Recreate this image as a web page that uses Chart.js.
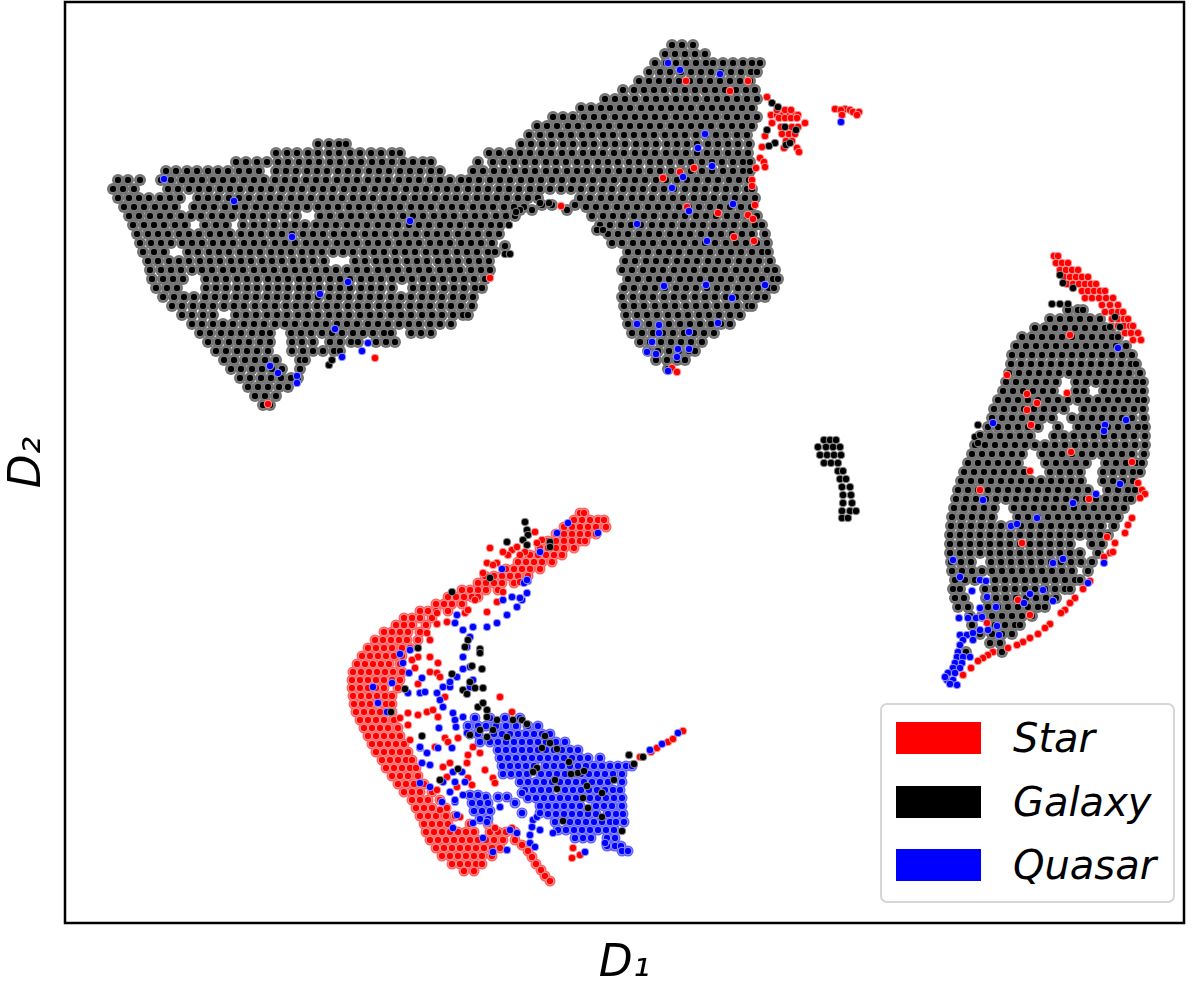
<!DOCTYPE html>
<html>
<head>
<meta charset="utf-8">
<title>D1 D2 embedding</title>
<script src="https://cdn.jsdelivr.net/npm/chart.js@4/dist/chart.umd.min.js"></script>
<style>
body { margin: 0; background: #fff; }
#wrap { position: relative; width: 1200px; height: 985px; }
#chart { filter: blur(0.5px); }
#legend { position: absolute; left: 880px; top: 703px; width: 291px; height: 196px; border: 2.5px solid #d6d6d6; border-radius: 7px; background: #fff; font: italic 40px "DejaVu Sans"; color: #000; }
#legend div { position: absolute; left: 14px; height: 32px; line-height: 32px; white-space: nowrap; }
#legend span { display: inline-block; width: 85px; height: 32px; margin-right: 32px; vertical-align: top; }
</style>
</head>
<body>
<div id="wrap"><canvas id="chart" width="1200" height="985"></canvas><div id="legend"></div></div>
<script>
const classNames = ['Star', 'Galaxy', 'Quasar'];
const classColors = ['#ff0000', '#000000', '#0000ff'];

// values, rows are [D2, D1, D1, ...]
const galaxyUpper = [
[45,672,682,693],
[54,665,675,685,695,705],
[63,655,666,676,686,696,706,713,723,733,743,752,760],
[72,649,660,670,681,691,701,711,721,731,741,751,757],
[81,639,649,659,669,679,690,700,710,720,730,740,750],
[90,623,634,644,654,664,675,685,695,705,715,725,736,746,755],
[99,605,615,625,635,646,656,666,676,686,696,707,717,727,737,747,757],
[108,581,591,601,610,620,630,641,651,661,671,681,691,702,712,722,732,742,752],
[117,553,563,573,584,594,604,615,625,635,645,655,665,676,686,696,706,716,727,737,747,757],
[126,537,547,557,568,578,589,599,609,620,630,640,650,660,671,681,691,701,711,722,732,742,752],
[135,529,540,551,561,571,582,592,603,613,624,634,644,654,665,675,685,696,706,716,726,737,747],
[144,318,329,339,346,521,531,542,552,563,573,584,594,605,615,625,636,646,656,667,677,687,697,708,718,728,738,749],
[153,276,287,297,308,318,329,339,350,360,371,381,392,400,489,499,510,520,530,541,551,562,572,583,593,603,614,624,635,645,655,666,676,686,697,707,717,728,738,748],
[162,236,246,257,267,278,288,299,309,319,330,340,351,361,372,382,392,403,413,423,431,478,493,504,514,525,535,546,556,566,577,587,598,608,618,629,639,650,660,670,681,691,702,712,722,733,743,750],
[171,166,176,187,197,208,218,228,239,249,259,276,286,296,307,317,327,338,348,358,369,379,389,400,410,420,431,440,473,483,494,504,515,525,535,546,556,567,577,587,598,608,619,629,639,650,660,671,681,691,702,712,723,733,743,750],
[180,118,128,140,161,171,182,192,202,213,223,233,244,254,264,275,285,295,306,316,326,337,347,357,368,378,388,399,409,419,430,440,450,461,469,479,490,500,510,521,531,541,552,562,573,583,593,604,614,625,635,645,656,666,677,687,697,708,718,729,739,749],
[189,113,123,134,168,178,189,199,209,220,230,240,251,261,271,282,292,302,313,323,333,344,354,364,375,385,395,406,416,426,437,447,457,468,478,488,499,509,519,530,540,550,561,571,581,592,602,612,623,633,643,654,664,674,685,695,705,716,726,736,747,752],
[198,118,129,139,149,160,170,180,198,208,218,229,239,249,260,270,280,291,301,311,322,332,342,353,363,373,384,394,404,415,425,435,446,456,466,477,487,497,507,518,528,538,580,590,601,611,621,632,642,652,663,673,683,694,704,714,725,735,745,755],
[207,124,134,144,155,165,175,194,204,214,225,235,245,256,266,276,287,297,307,318,328,338,349,359,369,380,390,400,411,421,431,442,452,462,473,483,493,504,514,524,586,596,606,617,627,637,648,658,668,679,689,699,710,720,730,741,751],
[216,129,139,150,160,170,181,191,201,212,222,232,243,253,263,274,284,296,320,330,341,351,361,372,382,392,403,413,423,434,444,454,465,475,485,496,506,515,592,603,613,623,634,644,654,665,675,685,696,706,716,727,737,747,757],
[225,133,144,154,164,175,185,205,216,226,243,254,264,274,285,295,305,316,326,336,347,357,367,378,388,398,409,419,429,440,450,460,471,481,491,500,600,610,621,631,641,652,662,672,683,693,703,714,724,734,745,755,762],
[234,137,148,158,168,179,189,199,210,220,230,241,251,261,272,282,292,303,313,323,334,344,354,365,375,385,396,406,416,427,437,447,458,468,478,489,499,608,618,628,639,649,659,670,680,690,701,711,721,732,742,752,765],
[243,140,151,161,171,182,192,202,213,223,233,244,254,264,275,285,295,306,316,326,337,347,357,368,378,388,399,409,419,430,440,450,461,471,481,492,612,622,633,643,653,664,674,684,695,705,715,726,736,746,757,767],
[252,143,154,164,188,198,209,219,229,240,250,260,271,281,291,302,312,322,333,343,353,364,374,384,395,405,415,426,436,446,457,467,477,488,495,628,638,648,659,669,679,690,700,710,721,731,741,752,762,768],
[261,148,158,169,179,189,200,210,220,231,241,251,262,272,282,293,303,313,324,355,365,376,386,396,407,417,427,438,448,458,469,479,489,625,635,646,656,666,677,687,697,708,718,728,739,749,759,770],
[270,150,161,171,181,192,202,212,223,233,243,254,264,274,285,295,305,316,326,336,347,357,367,378,388,398,409,419,429,440,450,460,471,481,490,622,632,643,653,663,674,684,694,705,715,725,736,746,756,767,775],
[279,152,163,173,183,206,216,226,237,247,257,268,278,288,299,309,319,330,340,350,361,371,381,392,402,412,423,433,443,454,464,474,485,628,638,649,659,669,680,690,700,711,721,731,742,752,762,773,778],
[288,156,167,177,206,216,226,237,247,257,268,278,288,299,309,319,330,340,350,361,371,381,392,413,423,433,444,454,464,475,482,624,634,645,655,665,676,686,696,707,717,727,738,748,758,769,774],
[297,163,174,184,194,205,215,225,236,246,256,267,277,287,298,308,318,329,339,349,360,370,380,391,401,411,422,432,442,453,463,473,622,633,643,653,664,674,684,695,705,715,726,736,746,757,765],
[306,172,182,193,203,213,224,234,244,255,265,275,286,296,306,317,327,337,348,358,368,379,389,399,410,420,430,441,451,461,472,624,634,644,655,665,675,686,696,706,717,727,737,748,752],
[315,182,192,203,213,236,246,256,267,277,287,298,308,318,329,339,349,360,370,380,391,401,411,422,432,442,453,463,468,626,637,647,657,668,678,688,699,709,719,730,740],
[324,192,202,213,223,233,244,254,264,275,285,295,306,316,326,337,347,357,368,378,388,399,409,419,430,440,451,628,638,649,659,669,680,690,700,711,721,730],
[333,200,210,221,231,241,252,262,270,291,301,311,322,332,342,353,363,373,384,391,411,421,431,632,642,653,663,673,684,694,704,714],
[342,208,218,229,239,249,260,270,292,302,313,330,340,351,358,376,386,395,640,650,661,671,681,691,702],
[351,216,226,237,247,257,268,292,303,313,323,334,340,648,658,669,679,689,695],
[360,224,234,245,255,265,276,300,305,656,667,677,685],
[369,231,241,252,262,272,282,300,668],
[378,240,250,261,271,281,291,298],
[387,248,258,268,279,288],
[396,255,265,276],
[405,263,270],
[205,542,552,575],
[210,520,532,567],
[230,597,603],
[246,505]
];

const galaxyRight = [
[310,1068,1078,1083],
[319,1050,1060,1070,1080,1090,1100],
[328,1035,1045,1055,1065,1075,1085,1095,1105,1111],
[337,1022,1032,1042,1052,1062,1072,1082,1092,1102,1112,1118],
[346,1016,1026,1036,1046,1056,1066,1076,1086,1096,1106,1116,1126],
[355,1012,1022,1032,1042,1052,1062,1072,1082,1092,1102,1112,1122,1132],
[364,1011,1021,1031,1041,1051,1061,1071,1081,1091,1101,1111,1121,1131,1136],
[373,1009,1019,1029,1039,1049,1059,1069,1079,1089,1099,1109,1119,1129,1140],
[382,1006,1016,1026,1036,1046,1056,1076,1086,1096,1106,1116,1126,1136,1143],
[391,1003,1013,1023,1033,1043,1053,1076,1084,1104,1114,1124,1134,1143],
[400,998,1008,1018,1028,1038,1048,1058,1068,1078,1088,1098,1108,1118,1128,1138,1144],
[409,994,1004,1014,1024,1034,1044,1054,1064,1084,1094,1104,1114,1124,1134,1143],
[418,992,1002,1012,1022,1032,1042,1052,1072,1082,1092,1102,1112,1122,1132,1144],
[427,988,998,1008,1018,1028,1038,1058,1078,1088,1098,1108,1118,1128,1138,1145],
[436,980,990,1000,1010,1020,1030,1054,1064,1074,1084,1094,1104,1114,1124,1134,1145],
[445,975,985,995,1005,1015,1025,1035,1045,1055,1065,1075,1085,1095,1105,1115,1125,1135,1145],
[454,972,982,992,1002,1012,1022,1042,1052,1062,1072,1082,1092,1102,1112,1122,1132,1144],
[463,968,978,988,998,1008,1018,1046,1056,1066,1076,1086,1106,1116,1126,1136,1142],
[472,964,974,984,994,1004,1014,1024,1050,1060,1070,1080,1103,1113,1123,1133,1140],
[481,961,971,981,991,1001,1011,1021,1031,1041,1051,1061,1071,1081,1103,1113,1123,1133],
[490,958,968,978,988,998,1008,1018,1028,1038,1048,1058,1068,1078,1088,1108,1118,1128,1135],
[499,956,966,976,986,996,1006,1016,1026,1036,1046,1056,1066,1076,1086,1096,1106,1116,1126,1131],
[508,954,964,974,984,994,1014,1024,1034,1044,1054,1064,1074,1084,1094,1104,1114,1124],
[517,952,962,972,982,992,1018,1028,1038,1048,1058,1068,1078,1088,1098,1108,1118],
[526,951,961,971,981,991,1001,1011,1021,1031,1041,1051,1061,1071,1081,1091,1101,1114],
[535,950,960,970,980,990,1000,1010,1020,1030,1040,1050,1060,1070,1080,1090,1100,1108],
[544,950,960,970,980,990,1000,1010,1020,1030,1040,1050,1060,1070,1092,1102],
[553,950,960,970,980,990,1000,1010,1020,1030,1040,1050,1060,1070,1080,1098],
[562,951,961,971,991,1001,1011,1021,1031,1041,1051,1061,1071,1081,1092],
[571,952,962,972,982,992,1002,1012,1022,1032,1042,1052,1062,1072,1088],
[580,955,965,975,995,1005,1015,1025,1035,1045,1055,1065,1075,1080],
[589,953,960,985,995,1005,1015,1025,1035,1045,1055,1065,1070],
[598,955,964,986,996,1006,1016,1026,1036,1046,1056],
[607,958,968,988,998,1008,1018,1028,1038,1045],
[616,970,982,992,1002,1012,1022,1032],
[625,972,995,1005,1015,1020],
[634,980,992,1002,1012],
[643,990,1000],
[652,966,1002]
];

const galaxyStray = [
[440,824,830,836],[447,818,826,833,840],[455,820,827,834,841],[463,824,831,838],[471,838,843],[479,840,846],[487,842,850],[495,843,851],[503,843,852],[511,842,850,856],[518,842,848],
[203,540,549],[212,516],[225,509],[254,505,510],[365,329],[360,332],
[103,772],[130,767],[107,778],[143,775],[146,769],[145,786],[143,790],[127,785],[130,796],
[275,1060],[283,1063],[288,1073],[304,1052,1060,1068],[327,1110,1120],[317,1115],
[437,975],[425,978],[435,980],[443,978],
[522,525],[530,527],[535,528],[540,523],[545,527],[542,507,550],[547,550],[578,490],[592,452],
[640,468],[647,465],[649,480],[653,480],[648,418],[666,472],[669,482],[674,452],[682,470],[688,475,483],[690,463],[694,467],[689,405],[712,391],[736,422],
[707,478],[703,483],[710,487],[717,487],[730,480,493],[720,497,513,522],[724,527],[735,470],[737,487,507],
[736,545],[748,542],[743,550],[749,557],[762,569],[768,537],[772,533],[773,578],[771,584],[774,571],[780,555,614,440],[789,557],[786,587],[798,583],[793,602],[808,588],[817,602],[821,563],[831,622],[755,629],[764,634],[757,643],[769,458]
];

const starRows = [
[513,580,584],[520,574,582,590,598,604],[527,564,572,580,588,596,606],[534,556,564,572,580,588,596],[541,548,556,564,572,580,585],[548,540,548,556,564,574],[555,530,538,546,554,562],[562,518,526,534,542,552],[569,506,514,522,530,540],[576,485,494,502,510,518,528],[583,478,486,494,502,514],[590,462,470,478,486,498],[597,448,456,464,472,478],[604,436,444,452,462],[611,420,428,436,448],[618,404,412,420,432],[625,396,404,412,426],[632,384,392,400,408,420],[640,375,383,391,399,407,418],[648,368,376,384,392,402,410],[656,362,370,378,386,394,402],[664,357,365,373,381,389,400],[672,353,361,369,377,385,393,402],[680,352,360,368,376,384,392,400],[688,352,360,368,376,384,398],[696,353,361,369,377,385,392],[704,354,362,370,378,386,392],[712,356,364,372,380,392],[720,360,368,376,384,394],[728,364,372,380,388,398],[736,368,376,384,392,400],[744,372,380,388,396,404],[752,376,384,392,400,408],[760,382,390,398,406,412],[768,386,394,402,410,416],[776,392,400,408,418],[784,398,406,414,424],[792,404,412,420,432],[800,412,420,428,440],[808,416,424,432,446],[816,420,428,436,446,455],[824,424,432,440,448,470,488],[832,426,434,442,450,458,466,474,490,498,506,515],[840,430,438,446,454,462,470,478,486,494,503,515],[848,436,444,452,460,468,476,484,492,500],[856,442,450,458,466,474,482,492],[864,452,460,468,476,482],[871,464,474],
[845,522],[851,528],[857,532],[864,536],[870,541],[876,545],[881,550]
];

const starScatter = [
[657,418,430],[660,412],[640,430],[633,427],[663,438],[672,430],[673,437],[677,440],[668,415],[684,418],[713,408],[715,418],[718,400],[725,408],[712,427],[710,433],[697,445,500],[717,438],[740,410],[738,445,458],[742,448],[747,435,473],[727,467],[755,468],[753,480],[763,450,467],[767,443],[770,485],[778,493,468],[783,495],[777,447],[787,457],[785,472],[790,437],[808,447],[810,440],[817,460],[815,483],[828,495],[828,512],[613,437],[622,447],[624,437],[613,465],[612,487],[610,468],[602,497],[592,503],[600,475],[582,520],[540,542],[543,537],[552,525],[550,512],[547,517],[532,535],[848,573],[855,580],[858,572],[847,610],[827,593],[820,568],[730,502],[712,512],[573,483],[563,487,497],[565,493],[555,508],[555,520],[552,503],[548,490],
[752,651],[748,657],[742,668],[739,673],[731,683],[757,640],
[97,767],[115,771,777,783,789,794,798],[110,777,785,791],[118,779,785,791,797],[123,805,772],[127,781,792,798],[134,782,789,795],[141,786,792],[148,784,797],[152,799],[136,765],[147,762],[158,760],[162,764],[167,765],[168,756],[180,752],[186,752],[205,755],
[109,835,845],[110,841,850],[112,853,859],[115,857,842],
[81,686,748],[91,730],[178,663],[172,680],[168,694],[207,687],[213,718],[215,748],[219,753],[237,734],[241,754],[206,561],[278,490],[368,672],[372,677],[358,375],[404,268],
[335,1070],[375,1007],[394,1027],[403,1037],[393,1067],[425,1031],[452,1071],[471,1030],[490,980],[499,1089],[462,1132],[537,1107],[543,1022],[615,1030],[600,1018],[623,987],[410,1027],
[256,1054,1058],[263,1056,1062,1068],[270,1060,1066,1072,1078],[277,1064,1070,1076,1082,1088],[284,1067,1073,1079,1085,1091,1096],[291,1082,1088,1094,1100,1105],[298,1085,1092,1099,1106,1113],[305,1102,1110,1118],[312,1105,1112,1118,1123],[319,1112,1118,1124,1128],[326,1118,1124,1130,1133],[333,1125,1131,1138],[340,1133,1141],
[518,1132],[525,1128],[533,1125],[543,1115],[553,1110],[557,1104],[552,1113],[581,1090],[589,1083],[598,1075],[603,1070],[610,1065],[613,1061],[624,1050],[628,1045],[634,1038],[638,1030],[642,1023],[645,1017],[648,1008],[652,993],[655,988],[658,983],[661,978],[668,971],[675,963],[483,1138],[490,1142],[494,1145],[498,1140]
];

const quasarRows = [
[718,475,490,505,520],[726,468,478,486,496,506,516,528,538],[734,470,478,494,502,510,518,526,534,542,550],[742,480,490,498,506,514,522,530,538,546,556,565],[750,498,506,514,522,530,538,546,554,562,570,578],[758,500,508,516,524,532,540,548,556,564,572,580,588,600],[766,502,510,518,526,534,546,554,562,570,578,586,594,602,610,618,626,632],[774,503,511,519,527,541,549,557,565,573,581,589,597,605,613,622],[782,520,528,536,544,552,560,568,576,584,592,600,608,622],[790,525,533,541,549,565,573,581,589,597,605,613,620],[798,528,536,544,552,560,568,576,590,598,606,614,622],[806,540,548,556,564,572,580,596,604,612,622],[814,548,556,564,572,580,588,596,608,616,623],[822,555,570,578,586,594,602,610,616,624],[830,558,566,574,582,590,598,606,614],[838,575,583,591,607,615],[846,607,615,621],[851,622,628],
[795,470,478],[797,486,498,507],[803,472,480,488,515],[811,474,482,490],[813,522,540],[819,480,488],[793,522]
];

const quasarScatter = [
[581,528],[583,524],[600,522],[607,517],[615,507],[623,497],[627,487,473],[630,463],[615,457],[623,455],[637,470],[647,467],[657,463],[667,470],[680,473],[687,470],
[523,568],[533,557],[552,540],[569,502],[580,527],[600,503],[597,512],[598,520],[593,527],[533,598],
[650,410],[654,400],[663,403],[673,409],[678,422],[687,373],[683,392],[693,408,420,437],[692,425],[703,378],[712,387],[700,440],[707,443],[687,443,450],[682,450],[677,457],[669,463],[713,453],[720,455],[717,463],[727,456],[728,439],[733,467],[748,420,438,452],[753,427],[747,420],[763,422],[765,430],[772,453,462],[783,420],[787,430],[782,443,455,465],[792,450],[802,442,455],[800,455],[795,463],
[797,498,507],[807,500],[803,515],[813,522],[793,522],[820,533],[817,537],[813,540],[827,532],[830,540],[835,530],[833,553],[815,457],[828,453],[823,473,487],[822,487],[838,483],[852,493],[850,507],[830,510],[833,517],[843,530],[847,535],[852,585],[843,605],[750,650],[744,662],[733,678],
[179,164],[201,234],[237,292],[221,410],[282,348],[294,320],[329,335],[343,368],[357,342],[351,362],[366,270],[376,297],[383,297],[373,278],
[148,698],[166,712],[188,672],[177,683],[204,733],[211,689],[224,637],[134,705],[241,707],[285,765],[298,732],[323,718],[286,664],[352,647],[354,656],[357,677],[371,668],[325,659],[333,659],[342,652],[63,668],[70,680],[74,720],[324,637],[349,678,689],[332,689],[285,706],[122,841],
[500,983],[503,1073],[494,1096],[484,1120],[425,1105],[431,1104],[348,1118],[420,1126],[518,1037],[526,1011],[524,1017],[559,1063],[563,1053],[590,1043],[601,1053],[603,1024],[594,1030],[607,996],[597,987],[608,980],[580,980],[581,986],[560,953],[577,960],[591,972],[583,1088],[563,1104],[423,993],
[618,959,968,976],[617,982],[635,960,967],[633,973],[630,980,988],[635,999],[626,997],[640,963,973],[645,960],[652,958],[657,957,963,970],[663,955,962],[668,953,960],[673,948,955],[680,947,953],[685,957],[677,945],[684,950]
];

const toPoints = rows => rows.flatMap(([y, ...xs]) => xs.map(x => ({ x, y })));

const galaxyPoints = toPoints(galaxyUpper).concat(toPoints(galaxyRight));
const strayPoints = toPoints(galaxyStray);
const starBand = toPoints(starRows);
const quasarBand = toPoints(quasarRows);
const starPoints = starBand.concat(toPoints(starScatter));
const quasarPoints = quasarBand.concat(toPoints(quasarScatter));

// frame around the whole plot area
const framePlugin = {
    id: 'frame',
    afterDraw(chart) {
        const { ctx, chartArea } = chart;
        ctx.save();
        ctx.strokeStyle = '#000';
        ctx.lineWidth = 2.5;
        ctx.strokeRect(chartArea.left, chartArea.top, chartArea.width, chartArea.height);
        ctx.restore();
    }
};

const ctx = document.getElementById('chart').getContext('2d');
new Chart(ctx, {
    type: 'scatter',
    data: {
        // first dataset ends up on top
        datasets: [
            { label: 'Galaxy stray', data: strayPoints, backgroundColor: '#000', borderColor: '#8c8c8c', borderWidth: 1, pointRadius: 3.8 },
            { label: 'Quasar', data: quasarPoints, backgroundColor: '#00f', borderColor: '#9c9cff', borderWidth: 1, pointRadius: 3.8 },
            { label: 'Quasar mesh', data: quasarBand, backgroundColor: '#5f5fff', pointRadius: 5.5, borderWidth: 0 },
            { label: 'Star', data: starPoints, backgroundColor: '#f00', borderColor: '#ff9c9c', borderWidth: 1, pointRadius: 3.8 },
            { label: 'Star mesh', data: starBand, backgroundColor: '#ff5f5f', pointRadius: 5.5, borderWidth: 0 },
            { label: 'Galaxy', data: galaxyPoints, backgroundColor: '#000', borderColor: '#8c8c8c', borderWidth: 1, pointRadius: 3.8 },
            { label: 'Galaxy mesh', data: galaxyPoints, backgroundColor: '#737373', pointRadius: 6, borderWidth: 0 }
        ]
    },
    options: {
        responsive: false,
        animation: false,
        layout: { autoPadding: false, padding: { top: 2, right: 16, left: 0, bottom: 0 } },
        plugins: { legend: { display: false }, tooltip: { enabled: false } },
        scales: {
            x: {
                min: 65, max: 1184,
                grid: { display: false }, border: { display: false }, ticks: { display: false },
                title: { display: true, text: 'D\u2081', color: '#000', font: { family: 'DejaVu Sans', style: 'italic', size: 44 }, padding: { top: 8, bottom: -6 } },
                afterFit(scale) { scale.height = 62; }
            },
            y: {
                min: 2, max: 923, reverse: true,
                grid: { display: false }, border: { display: false }, ticks: { display: false },
                title: { display: true, text: 'D\u2082', color: '#000', font: { family: 'DejaVu Sans', style: 'italic', size: 44 }, padding: { top: 2, bottom: 6 } },
                afterFit(scale) { scale.width = 65; }
            }
        }
    },
    plugins: [framePlugin]
});

// legend patches in the lower right corner
const legendBox = document.getElementById('legend');
classNames.forEach((name, i) => {
    const row = document.createElement('div');
    row.style.top = (17 + i * 63.5) + 'px';
    row.innerHTML = '<span style="background:' + classColors[i] + '"></span>' + name;
    legendBox.appendChild(row);
});
</script>
</body>
</html>
